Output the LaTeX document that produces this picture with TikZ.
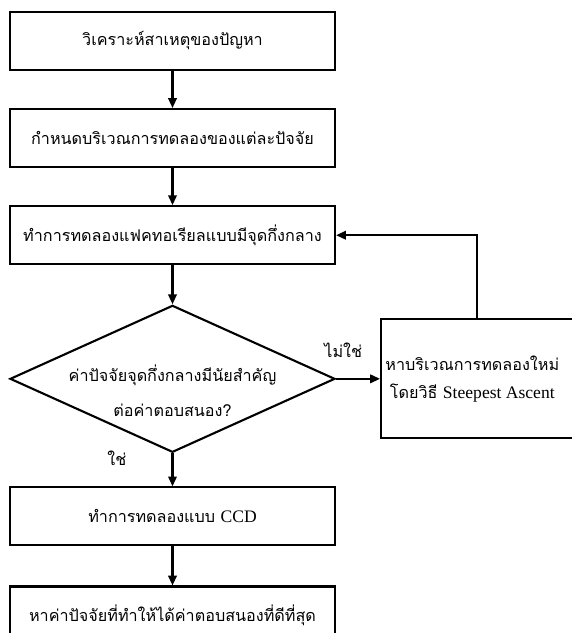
\documentclass[tikz,border=0pt]{standalone}
\usepackage{fontspec}
\newfontfamily\thaifont[Script=Thai]{Loma}
\newfontfamily\latinfont{Liberation Serif}
\usetikzlibrary{arrows.meta, positioning, shapes.geometric}

\begin{document}
\begin{tikzpicture}[
		node distance=0.925cm and 1.1cm,
		every node/.style={font=\thaifont\fontsize{11.5}{15}\selectfont},
		process/.style={rectangle, draw, line width=1.5pt, minimum width=8.125cm, minimum height=1.45cm, inner sep=0pt},
		decision/.style={diamond, draw, line width=1.5pt, minimum width=8.125cm, minimum height=3.675cm, inner sep=0pt},
		search/.style={rectangle, draw, line width=1.5pt, minimum width=5.3cm, minimum height=2.975cm},
		answer/.style={inner sep=1pt},
		flow/.style={-{Triangle[length=7pt,width=6pt]}, line width=1.5pt},
		]
	
		\useasboundingbox (0,0) rectangle (14.275,-15.825);
	
		% main column
		\node[process] at (4.3125,-1.025) (analyse) {วิเคราะห์สาเหตุของปัญหา};
		\node[process, below = of analyse] (region) {กำหนดบริเวณการทดลองของแต่ละปัจจัย};
		\node[process, below = of region] (factorial) {ทำการทดลองแฟคทอเรียลแบบมีจุดกึ่งกลาง};
		\node[decision, below = 0.975cm of factorial] (centre) {};
		\node[align=center, yshift=-0.29cm, font=\thaifont\fontsize{11.5}{25}\selectfont] at (centre.center) (centretext) {ค่าปัจจัยจุดกึ่งกลางมีนัยสำคัญ\\ต่อค่าตอบสนอง?};
		\node[process, below = 0.825cm of centre] (ccd) {ทำการทดลองแบบ {\latinfont\fontsize{12.5}{15}\selectfont CCD}};
		\node[process, below = 0.975cm of ccd] (optimum) {หาค่าปัจจัยที่ทำให้ได้ค่าตอบสนองที่ดีที่สุด};
	
		% side branch
		\node[search, right = of centre] (steepest) {};
		\node[align=center, font=\thaifont\fontsize{11.5}{20}\selectfont] at ([xshift=-0.37cm]steepest.center) (steepesttext) {หาบริเวณการทดลองใหม่\\โดยวิธี {\latinfont\fontsize{12.5}{20}\selectfont Steepest Ascent}};
		\node[answer] at ([xshift=0.18cm, yshift=0.72cm]centre.east) (nolabel) {ไม่ใช่};
		\node[answer] at ([xshift=-1.39cm, yshift=-0.12cm]centre.south) (yeslabel) {ใช่};
	
		\draw[flow] (analyse) -- (region);
		\draw[flow] (region) -- (factorial);
		\draw[flow] (factorial) -- (centre);
		\draw[flow] (centre) -- (ccd);
		\draw[flow] (ccd) -- (optimum);
		\draw[flow] (centre.east) -- (steepest.west);
		\draw[flow] ([xshift=-0.25cm]steepest.north) |- (factorial.east);
	
	\end{tikzpicture}
\end{document}
